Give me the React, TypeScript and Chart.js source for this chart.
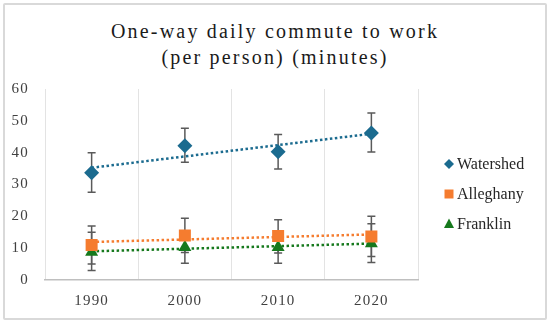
import React, { useEffect, useRef } from 'react';
import { Chart, registerables } from 'chart.js';
Chart.register(...registerables);

const years = ['1990', '2000', '2010', '2020'];
const seriesNames = ['Watershed', 'Alleghany', 'Franklin'];
const watershed = [33.7, 42.2, 40.3, 46.2];
const watershedLow = [27.6, 37.0, 34.9, 40.2];
const watershedHigh = [40.0, 47.7, 45.7, 52.5];
const alleghany = [11.0, 14.0, 13.8, 13.7];
const alleghanyLow = [5.0, 8.6, 8.5, 7.4];
const alleghanyHigh = [17.0, 19.4, 18.9, 20.0];
const franklin = [8.8, 10.3, 10.3, 11.5];
const franklinLow = [3.0, 5.3, 5.3, 5.5];
const franklinHigh = [15.0, 15.5, 15.5, 17.7];
const yTicks = [0, 10, 20, 30, 40, 50, 60];

const colors = ['#1B6B8F', '#F57C2F', '#16791D'];
const styles = ['rectRot', 'rect', 'triangle'];
const radii = [7.5, 8.5, 7.5];
const values = [watershed, alleghany, franklin];
const lows = [watershedLow, alleghanyLow, franklinLow];
const highs = [watershedHigh, alleghanyHigh, franklinHigh];

const SERIF = '"Liberation Serif", "Times New Roman", serif';

function trend(v: number[]): number[] {
  const n = v.length;
  const xs = v.map((_, i) => i);
  const mx = xs.reduce((a, b) => a + b, 0) / n;
  const my = v.reduce((a, b) => a + b, 0) / n;
  let num = 0, den = 0;
  xs.forEach((x, i) => { num += (x - mx) * (v[i] - my); den += (x - mx) * (x - mx); });
  const b = num / den;
  return xs.map((x) => my + b * (x - mx));
}

const errorBarPlugin = {
  id: 'errorBars',
  beforeDatasetsDraw(chart: any) {
    const ctx = chart.ctx;
    const xs = chart.scales.x;
    const ys = chart.scales.y;
    ctx.save();
    ctx.strokeStyle = '#5a5a5a';
    ctx.lineWidth = 1.5;
    values.forEach((_, s) => {
      years.forEach((_, i) => {
        const x = xs.getPixelForValue(i);
        const y1 = ys.getPixelForValue(lows[s][i]);
        const y2 = ys.getPixelForValue(highs[s][i]);
        ctx.beginPath();
        ctx.moveTo(x, y1); ctx.lineTo(x, y2);
        ctx.moveTo(x - 4, y1); ctx.lineTo(x + 4, y1);
        ctx.moveTo(x - 4, y2); ctx.lineTo(x + 4, y2);
        ctx.stroke();
      });
    });
    ctx.restore();
  },
};

const legendPlugin = {
  id: 'customLegend',
  afterDraw(chart: any) {
    const ctx = chart.ctx;
    const area = chart.chartArea;
    ctx.save();
    ctx.letterSpacing = '0px';
    ctx.font = '16px ' + SERIF;
    ctx.textBaseline = 'middle';
    seriesNames.forEach((name, i) => {
      const mx = area.right + 31;
      const my = area.top + 75 + i * 30;
      ctx.fillStyle = colors[i];
      ctx.beginPath();
      if (i === 0) {
        ctx.moveTo(mx, my - 5); ctx.lineTo(mx + 5, my); ctx.lineTo(mx, my + 5); ctx.lineTo(mx - 5, my);
      } else if (i === 1) {
        ctx.rect(mx - 4.5, my - 4.5, 9, 9);
      } else {
        ctx.moveTo(mx, my - 5.5); ctx.lineTo(mx + 5, my + 4); ctx.lineTo(mx - 5, my + 4);
      }
      ctx.closePath();
      ctx.fill();
      ctx.fillStyle = '#262626';
      ctx.fillText(name, mx + 8, my + 1);
    });
    ctx.restore();
  },
};

const spacingPlugin = {
  id: 'spacing',
  beforeDraw(chart: any) {
    chart.ctx.letterSpacing = '1.2px';
  },
};

export default function App() {
  const ref = useRef<HTMLCanvasElement>(null);
  useEffect(() => {
    if (!ref.current) return;
    const datasets: any[] = [];
    values.forEach((v, s) => {
      datasets.push({
        label: seriesNames[s],
        data: v,
        showLine: false,
        pointStyle: styles[s],
        pointRadius: radii[s],
        pointBackgroundColor: colors[s],
        pointBorderColor: colors[s],
        pointBorderWidth: 0,
        order: 1,
      });
    });
    values.forEach((v, s) => {
      datasets.push({
        label: seriesNames[s] + ' trend',
        data: trend(v),
        borderColor: colors[s],
        borderWidth: 2.5,
        borderDash: [2.5, 2.5],
        pointRadius: 0,
        fill: false,
        tension: 0,
        order: 2,
      });
    });
    const chart = new Chart(ref.current, {
      type: 'line',
      data: { labels: years, datasets },
      options: {
        animation: false,
        responsive: false,
        layout: { padding: { top: 89, right: 132, left: 0, bottom: 0 } },
        plugins: { legend: { display: false }, tooltip: { enabled: false } },
        scales: {
          x: {
            offset: true,
            grid: { offset: true, color: '#e3e3e3', lineWidth: 1, drawTicks: false },
            border: { color: '#bfbfbf', width: 1.5 },
            ticks: { font: { family: SERIF, size: 15 }, color: '#404040', padding: 12 },
            afterFit: (s: any) => { s.height = 43; },
          },
          y: {
            min: 0,
            max: 60,
            afterBuildTicks: (s: any) => { s.ticks = yTicks.map((v) => ({ value: v })); },
            grid: { display: false, drawTicks: false },
            border: { display: false },
            ticks: { font: { family: SERIF, size: 15 }, color: '#404040', padding: 16 },
            afterFit: (s: any) => { s.width = 45; },
          },
        },
      } as any,
      plugins: [spacingPlugin, errorBarPlugin, legendPlugin],
    });
    return () => chart.destroy();
  }, []);
  return (
    <div style={{ position: 'fixed', left: 0, top: 0, width: 550, height: 323, background: '#fff' }}>
      <div style={{ position: 'absolute', left: 3, top: 3, width: 540, height: 313, border: '2px solid #d9d9d9', borderRadius: 2 }} />
      <div
        style={{
          position: 'absolute', left: 0, top: 18, width: 550, textAlign: 'center',
          fontFamily: SERIF, fontSize: 20, lineHeight: '26px', letterSpacing: '2.2px', color: '#1a1a1a',
        }}
      >
        One-way daily commute to work<br />(per person) (minutes)
      </div>
      <canvas ref={ref} width={550} height={323} style={{ position: 'absolute', left: 0, top: 0 }} />
    </div>
  );
}
